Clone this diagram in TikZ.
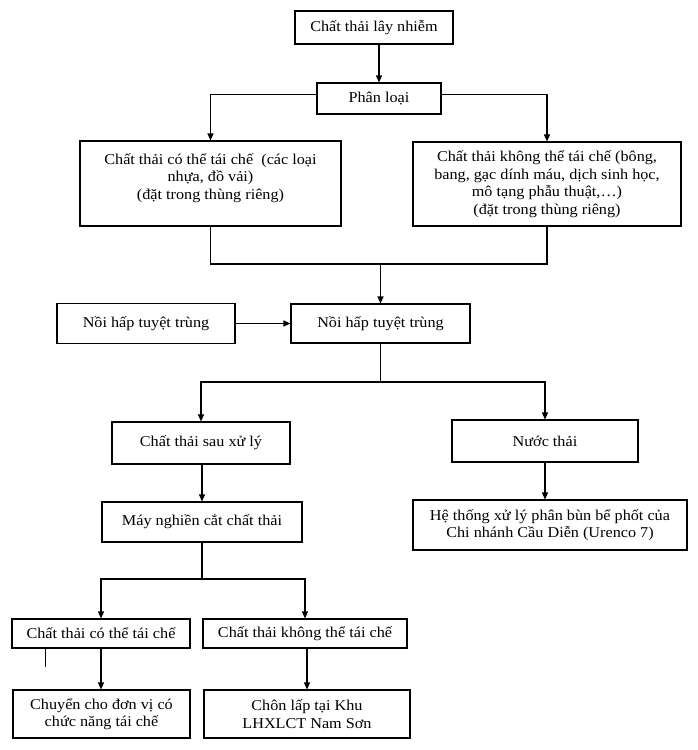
\documentclass[tikz,border=0pt]{standalone}
\usepackage{fontspec}
\setmainfont{Liberation Serif}[FakeStretch=1.08]
\usetikzlibrary{arrows.meta,positioning,calc}

\begin{document}
\begin{tikzpicture}[x=1pt,y=-1pt,
  box/.style={draw,line width=1.1pt,align=center,inner sep=2pt,font=\fontsize{15}{17.5}\selectfont},
  arr/.style={-{Triangle[length=7pt,width=6pt]},line width=1.1pt},
  ln/.style={line width=1.1pt}]
  \useasboundingbox (0,0) rectangle (697,750);
  % phan loai
  \node[box,line width=1.8pt,minimum width=158pt,minimum height=33pt] (lnhiem) at (374,27.5) {Chất thải lây nhiễm};
  \node[box,minimum width=124pt,minimum height=31pt] (phanloai) at (379,98.5) {Phân loại};
  \node[box,minimum width=261pt,minimum height=85pt] (tc) at (210.5,183.5)
    {Chất thải có thể tái chế~ (các loại\\nhựa, đồ vải)\\(đặt trong thùng riêng)\\[-3pt]~};
  \node[box,minimum width=268pt,minimum height=84pt] (ktc) at (547,184)
    {Chất thải không thể tái chế (bông,\\bang, gạc dính máu, dịch sinh học,\\mô tạng phẫu thuật,\dots)\\(đặt trong thùng riêng)};
  \coordinate (merge) at (380.5,264);
  % hap
  \node[box,minimum width=178pt,minimum height=40pt] (noihap1) at (146,323.5) {Nồi hấp tuyệt trùng};
  \node[box,minimum width=179pt,minimum height=39pt] (noihap2) at (380.5,323.5) {Nồi hấp tuyệt trùng};
  \coordinate (split2) at (380.5,382);
  \node[box,minimum width=178pt,minimum height=42pt] (sauxl) at (201,443) {Chất thải sau xử lý};
  \node[box,minimum width=186pt,minimum height=42pt] (nuocthai) at (545,441) {Nước thải};
  \node[box,minimum width=200pt,minimum height=40pt] (maynghien) at (202,522) {Máy nghiền cắt chất thải};
  \node[box,minimum width=274pt,minimum height=50pt] (hethong) at (550,525)
    {Hệ thống xử lý phân bùn bể phốt của\\Chi nhánh Cầu Diễn (Urenco 7)};
  \coordinate (split3) at (202,579);
  \node[box,minimum width=178pt,minimum height=29pt] (ctc) at (101,633.5) {Chất thải có thể tái chế};
  \node[box,minimum width=204pt,minimum height=29pt] (cktc) at (305,633.5) {Chất thải không thể tái chế};
  \node[box,minimum width=177pt,minimum height=48pt] (chuyen) at (101.5,714) {Chuyển cho đơn vị có\\chức năng tái chế};
  \node[box,minimum width=206pt,minimum height=48pt] (chonlap) at (307,714) {Chôn lấp tại Khu\\LHXLCT Nam Sơn};

  \draw[arr] (lnhiem.south -| phanloai.north) -- (phanloai.north);
  \draw[arr] ([yshift=4pt]phanloai.west) -| (tc.north);
  \draw[arr] ([yshift=4pt]phanloai.east) -| (ktc.north);
  \draw[ln] (tc.south) |- (merge) -| (ktc.south);
  \draw[arr] (merge) -- (noihap2.north);
  \draw[arr] (noihap1.east) -- (noihap2.west);
  \draw[ln] (noihap2.south) -- (split2);
  \draw[arr] (split2) -| (sauxl.north);
  \draw[arr] (split2) -| (nuocthai.north);
  \draw[arr] (sauxl.south -| maynghien.north) -- (maynghien.north);
  \draw[arr] (nuocthai.south) -- (nuocthai.south |- hethong.north);
  \draw[ln] (maynghien.south) -- (split3);
  \draw[arr] (split3) -| (ctc.north);
  \draw[arr] (split3) -| (cktc.north);
  \draw[arr] (ctc.south) -- (ctc.south |- chuyen.north);
  \draw[arr] (cktc.south -| chonlap.north) -- (chonlap.north);
  \draw[ln] ([xshift=34pt]ctc.south west) -- ++(0,18);
\end{tikzpicture}
\end{document}
